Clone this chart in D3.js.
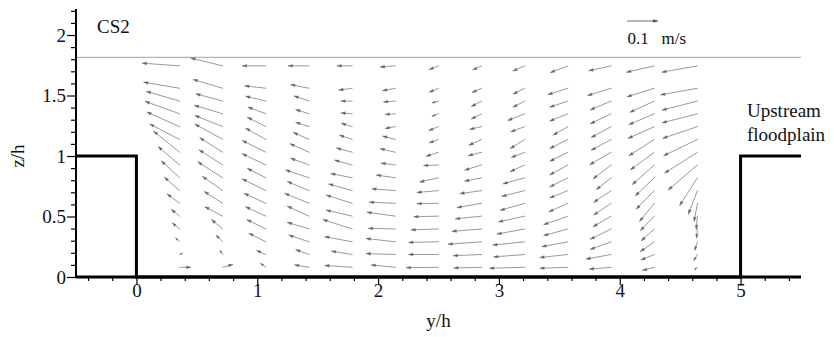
<!DOCTYPE html>
<html>
<head>
<meta charset="utf-8">
<script src="https://cdn.jsdelivr.net/npm/d3@7"></script>
<style>
  html, body { margin: 0; padding: 0; background: #fff; }
  svg { display: block; }
  svg text { font-family: "DejaVu Serif", "Liberation Serif", "Times New Roman", Times, serif !important; fill: #111; }
  svg text.lib { font-family: "Liberation Serif", "Times New Roman", Times, serif !important; }
</style>
</head>
<body>
<svg id="chart" width="834" height="337"></svg>
<script>
// Measurement stations across the channel (y/h) and depths (z/h)
const stationsY = [0.357, 0.714, 1.071, 1.429, 1.786, 2.143, 2.5, 2.857, 3.214, 3.571, 3.929, 4.286, 4.643];
const depthsZ = [0.08, 0.186, 0.291, 0.397, 0.503, 0.609, 0.714, 0.82, 0.926, 1.031, 1.137, 1.243, 1.349, 1.454, 1.56, 1.745];

// Lateral velocity V (cm/s), one list per station, bottom to top
const velV = [
  [3.7, 1.0, -1.3, -2.4, -2.7, -4.1, -5.0, -6.0, -7.1, -8.6, -9.9, -10.8, -11.4, -11.0, -11.9, -12.4],
  [3.3, -0.9, -2.2, -3.7, -5.9, -6.1, -6.7, -8.3, -7.8, -7.6, -9.2, -9.2, -9.4, -8.9, -9.8, -10.6],
  [-1.7, -3.0, -5.6, -6.3, -6.7, -7.2, -7.8, -6.1, -7.8, -7.8, -6.7, -6.1, -5.9, -6.7, -7.0, -7.8],
  [-4.8, -4.4, -6.7, -7.2, -7.2, -8.1, -7.2, -7.8, -6.1, -6.3, -5.2, -4.4, -4.4, -5.0, -6.1, -6.9],
  [-9.1, -6.9, -9.1, -9.7, -8.6, -8.6, -7.8, -7.1, -5.8, -5.2, -4.2, -3.6, -3.7, -3.7, -4.4, -5.0],
  [-8.0, -9.7, -9.7, -8.9, -9.4, -8.6, -7.8, -6.3, -4.7, -5.0, -4.2, -3.3, -3.3, -3.9, -4.2, -5.0],
  [-10.7, -9.9, -9.9, -9.1, -8.2, -7.1, -7.1, -6.2, -4.9, -4.1, -3.0, -3.2, -2.1, -2.1, -3.0, -3.0],
  [-9.2, -9.4, -11.1, -9.8, -8.7, -8.1, -7.2, -5.6, -5.6, -4.4, -4.2, -3.9, -3.4, -3.4, -3.1, -2.9],
  [-11.7, -10.3, -10.6, -9.2, -8.7, -8.1, -7.6, -7.2, -4.8, -4.4, -4.8, -4.6, -5.6, -3.9, -3.9, -3.9],
  [-9.3, -9.3, -8.6, -8.0, -8.0, -6.3, -6.0, -6.0, -6.0, -6.0, -6.0, -4.9, -6.0, -6.0, -6.6, -5.8],
  [-7.2, -8.3, -6.9, -6.9, -6.0, -5.8, -5.8, -4.9, -6.0, -7.1, -6.6, -6.6, -6.9, -6.9, -7.8, -7.4],
  [-3.9, -4.4, -4.6, -4.3, -4.6, -4.9, -6.0, -6.3, -7.3, -7.9, -8.4, -8.7, -8.4, -8.1, -9.0, -9.2],
  [-1.0, -1.2, -0.9, -0.3, -0.4, -1.1, -3.0, -5.9, -9.7, -10.9, -11.2, -11.5, -11.7, -11.7, -12.2, -11.8]
];

// Vertical velocity W (cm/s), one list per station, bottom to top
const velW = [
  [0.0, 0.4, 1.3, 2.0, 2.2, 3.1, 4.4, 5.6, 6.1, 7.0, 5.1, 4.8, 4.1, 3.2, 2.0, 0.9],
  [0.9, 1.3, 2.2, 3.1, 3.1, 3.9, 4.7, 5.3, 5.0, 4.8, 5.1, 3.7, 2.8, 2.4, 2.9, 2.6],
  [1.3, 1.3, 2.8, 3.1, 3.1, 3.3, 3.9, 3.1, 3.7, 3.9, 3.7, 3.1, 2.2, 1.6, 0.8, 0.0],
  [0.8, 1.6, 2.2, 2.2, 3.3, 3.3, 3.0, 2.6, 2.2, 2.8, 2.3, 1.4, 1.4, 1.7, 1.2, 0.0],
  [0.6, 1.1, 1.7, 3.1, 2.0, 2.7, 2.2, 1.4, 1.6, 1.4, 1.4, 1.1, 0.3, 0.0, -0.6, 0.0],
  [0.8, 0.3, 1.1, 0.2, 1.3, 0.4, 0.6, 0.9, 0.6, 1.2, 1.1, -0.6, -0.2, -0.3, -0.8, -0.4],
  [-0.1, 0.0, -0.2, -0.3, -0.2, -0.1, -0.6, -1.4, -0.2, -1.3, -1.1, -1.3, -0.8, -0.6, -1.3, -1.2],
  [-0.2, -0.4, -0.8, -0.8, -0.9, -1.4, -1.0, -1.1, -1.7, -1.1, -1.9, -0.9, -1.7, -1.8, -1.4, -1.3],
  [-0.3, -0.8, -1.1, -1.7, -1.9, -2.3, -1.9, -2.0, -2.2, -1.7, -3.0, -1.7, -2.2, -2.0, -1.9, -1.7],
  [-0.3, -1.0, -1.6, -2.2, -2.8, -2.8, -2.4, -3.0, -3.3, -3.0, -3.0, -2.8, -2.4, -2.0, -2.1, -2.2],
  [-0.6, -1.5, -2.5, -3.4, -3.5, -3.9, -3.9, -3.9, -4.6, -4.1, -3.6, -3.6, -3.3, -2.9, -2.4, -1.6],
  [-1.0, -1.8, -3.2, -3.9, -4.8, -6.0, -6.1, -6.0, -6.5, -5.8, -5.4, -3.9, -3.6, -3.7, -2.8, -2.1],
  [-0.8, -2.0, -2.8, -3.0, -4.4, -6.0, -7.8, -9.2, -8.3, -6.9, -5.4, -3.9, -3.0, -3.0, -2.2, -2.1]
];

// Channel cross-section outline (y/h, z/h)
const bedProfile = [[-0.5, 1], [0, 1], [0, 0], [5, 0], [5, 1], [5.5, 1]];
const waterSurfaceZ = 1.815;

// Axis ticks
const xMajorTicks = [0, 1, 2, 3, 4, 5];
const xMinorTicks = d3.range(-0.4, 5.41, 0.2).map(v => +v.toFixed(1)).filter(v => !xMajorTicks.includes(v));
const yMajorTicks = [0, 0.5, 1, 1.5, 2];
const yMinorTicks = d3.range(0.1, 2.21, 0.1).map(v => +v.toFixed(1)).filter(v => !yMajorTicks.includes(v));

// Reference vector
const refSpeed = 10;            // cm/s  (= 0.1 m/s)
const refLabel = ["0.1", "m/s"];

const svg = d3.select("#chart");
const x = d3.scaleLinear().domain([-0.5, 5.5]).range([76, 801]);
const y = d3.scaleLinear().domain([0, 2.215]).range([277, 9]);
// vector length scale: px per cm/s
const vs = d3.scaleLinear().domain([0, 10]).range([0, 30]);

// free surface
svg.append("line")
  .attr("x1", x(-0.5)).attr("x2", x(5.5))
  .attr("y1", y(waterSurfaceZ)).attr("y2", y(waterSurfaceZ))
  .attr("stroke", "#b4b4b4").attr("stroke-width", 1.4);

// vectors
function drawArrow(g, x0, y0, x1, y1, color, fill) {
  const dx = x1 - x0, dy = y1 - y0;
  const len = Math.hypot(dx, dy);
  if (len < 0.3) return;
  g.append("line")
    .attr("x1", x0).attr("y1", y0).attr("x2", x1).attr("y2", y1)
    .attr("stroke", color).attr("stroke-width", 1).attr("stroke-linecap", "round");
  const hl = Math.min(4.2, 0.3 * len + 1), hw = hl * 0.34;
  const ux = dx / len, uy = dy / len;
  const bx = x1 - ux * hl, by = y1 - uy * hl;
  g.append("path")
    .attr("d", `M${x1},${y1}L${bx - uy * hw},${by + ux * hw}L${bx + uy * hw},${by - ux * hw}Z`)
    .attr("fill", fill).attr("stroke", fill).attr("stroke-width", 0.3);
}

const gv = svg.append("g").attr("class", "vectors");
stationsY.forEach((sy, i) => {
  depthsZ.forEach((sz, j) => {
    const x0 = x(sy), y0 = y(sz);
    drawArrow(gv, x0, y0, x0 + vs(velV[i][j]), y0 - vs(velW[i][j]), "#9a9a9a", "#666");
  });
});

// channel outline
svg.append("path")
  .attr("d", d3.line().x(d => x(d[0])).y(d => y(d[1]))(bedProfile))
  .attr("fill", "none").attr("stroke", "#000").attr("stroke-width", 3)
  .attr("stroke-linejoin", "miter");

// axes
const axisX = svg.append("g").attr("transform", `translate(0,${y(0)})`);
axisX.call(d3.axisBottom(x).tickValues(xMajorTicks).tickSize(8).tickFormat(d3.format("d")));
axisX.append("g").call(d3.axisBottom(x).tickValues(xMinorTicks).tickSize(4).tickFormat(""));
axisX.selectAll(".domain").remove();
axisX.append("line").attr("x1", x(-0.5)).attr("x2", x(5.5)).attr("stroke", "#000").attr("stroke-width", 3);

const axisY = svg.append("g").attr("transform", `translate(${x(-0.5)},0)`);
axisY.call(d3.axisLeft(y).tickValues(yMajorTicks).tickSize(9).tickFormat(d => d3.format("")(d)));
axisY.append("g").call(d3.axisLeft(y).tickValues(yMinorTicks).tickSize(5).tickFormat(""));
axisY.selectAll(".domain").remove();
axisY.append("line").attr("y1", y(0) + 1).attr("y2", y(2.215)).attr("stroke", "#000").attr("stroke-width", 2);

svg.selectAll(".tick line").attr("stroke", "#000").attr("stroke-width", 1.2);
svg.selectAll(".tick text").attr("class", "lib").attr("font-size", 19).attr("fill", "#111");
axisX.selectAll(".tick text").attr("dy", null).attr("y", 20);
axisY.selectAll(".tick text").attr("x", -10).attr("dy", "0.34em");

// axis titles
svg.append("text").attr("class", "lib").attr("x", x(2.5)).attr("y", 327).attr("text-anchor", "middle")
  .attr("font-size", 19).text("y/h");
svg.append("text").attr("class", "lib").attr("transform", `translate(24,${y(1)}) rotate(-90)`).attr("text-anchor", "middle")
  .attr("font-size", 19).text("z/h");

// annotations
svg.append("text").attr("class", "lib").attr("x", 97).attr("y", 33).attr("font-size", 19).text("CS2");
svg.append("text").attr("class", "lib").attr("x", 747).attr("y", 117).attr("font-size", 19).text("Upstream");
svg.append("text").attr("class", "lib").attr("x", 747).attr("y", 141).attr("font-size", 19).text("floodplain");

// reference vector
const refX = x(4.064), refY = y(2.116);
drawArrow(svg, refX, refY, refX + vs(refSpeed), refY, "#6a6a6a", "#444");
svg.append("text").attr("class", "lib").attr("x", refX).attr("y", 44).attr("font-size", 17).text(refLabel[0]);
svg.append("text").attr("class", "lib").attr("x", refX + 34).attr("y", 44).attr("font-size", 17).text(refLabel[1]);
</script>
</body>
</html>
